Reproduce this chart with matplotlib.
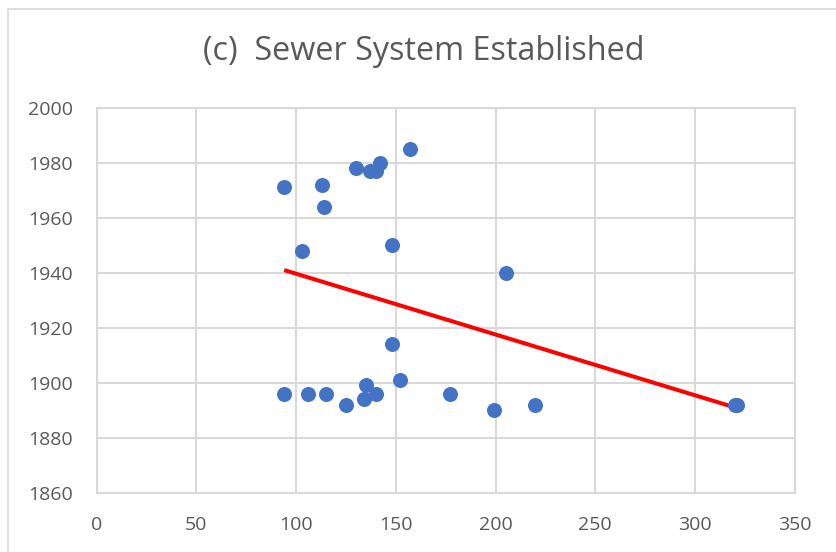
import numpy as np
import matplotlib
matplotlib.use("Agg")
from matplotlib import pyplot as plt
from matplotlib.patches import Rectangle

# valores (x, ano)
x_vals = [94, 113, 114, 103, 130, 137, 140, 142, 157, 148,
          94, 106, 115, 125, 134, 135, 140, 152, 177,
          148, 205, 199, 220, 320, 321]
y_vals = [1971, 1972, 1964, 1948, 1978, 1977, 1977, 1980, 1985, 1950,
          1896, 1896, 1896, 1892, 1894, 1899, 1896, 1901, 1896,
          1914, 1940, 1890, 1892, 1892, 1892]
x_ticks = [0, 50, 100, 150, 200, 250, 300, 350]
y_ticks = [1860, 1880, 1900, 1920, 1940, 1960, 1980, 2000]
titulo = "(c)  Sewer System Established"

plt.rcParams['font.family'] = ['Open Sans', 'DejaVu Sans']
cinza = '#595959'
grade = '#D9D9D9'

fig = plt.figure(figsize=(8.36, 5.52), dpi=100)
fig.patch.set_facecolor('white')

# moldura externa do grafico (cortada a direita e embaixo)
fig.patches.append(Rectangle((8 / 836, -0.1), 1.2, 1 - 8.5 / 552 + 0.1,
                             transform=fig.transFigure, fill=False,
                             edgecolor=grade, linewidth=1.2))

ax = fig.add_axes([96.7 / 836, 1 - 492.7 / 552, 698 / 836, 385 / 552])

x = np.array(x_vals, dtype=float)
y = np.array(y_vals, dtype=float)

# linha de tendencia linear
coef = np.polyfit(x, y, 1)
xs = np.array([x.min(), x.max()])
ax.plot(xs, np.polyval(coef, xs), color='#FF0000', linewidth=2.9, zorder=3,
        solid_capstyle='butt')

ax.plot(x, y, 'o', color='#4472C4', markersize=10.8, markeredgewidth=0, zorder=4)

ax.set_xlim(0, 350)
ax.set_ylim(1860, 2000)
ax.set_xticks(x_ticks)
ax.set_yticks(y_ticks)
ax.grid(True, color=grade, linewidth=1.5)
ax.set_axisbelow(True)
for lado in ax.spines.values():
    lado.set_color(grade)
    lado.set_linewidth(1.5)
ax.tick_params(length=0, labelsize=14, labelcolor=cinza)
ax.tick_params(axis='y', pad=17)
ax.tick_params(axis='x', pad=17)

fig.text(424 / 836, 1 - 52 / 552, titulo, ha='center', va='center',
         fontsize=23.3, color=cinza)

fig.savefig('out.png', dpi=100)
